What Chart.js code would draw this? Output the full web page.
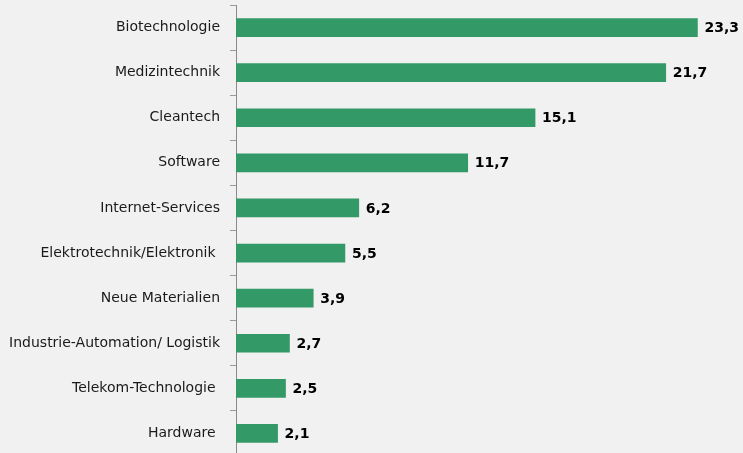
<!DOCTYPE html>
<html>
<head>
<meta charset="utf-8">
<script src="https://cdn.jsdelivr.net/npm/chart.js@4/dist/chart.umd.min.js"></script>
<style>
  html, body { margin: 0; padding: 0; background: #f1f1f1; overflow: hidden; }
  canvas { display: block; }
</style>
</head>
<body>
<canvas id="chart" width="743" height="461"></canvas>
<script>
// Kategorien und Werte (in %)
const categories = [
  'Biotechnologie',
  'Medizintechnik',
  'Cleantech',
  'Software',
  'Internet-Services',
  'Elektrotechnik/Elektronik ',
  'Neue Materialien',
  'Industrie-Automation/ Logistik',
  'Telekom-Technologie ',
  'Hardware '
];
const values = [23.3, 21.7, 15.1, 11.7, 6.2, 5.5, 3.9, 2.7, 2.5, 2.1];

// Werte rechts neben die Balken schreiben
const valueLabels = {
  id: 'valueLabels',
  afterDatasetsDraw(chart) {
    const { ctx } = chart;
    const meta = chart.getDatasetMeta(0);
    ctx.save();
    ctx.font = 'bold 14px "DejaVu Sans"';
    ctx.fillStyle = '#000';
    ctx.textBaseline = 'middle';
    ctx.textAlign = 'left';
    meta.data.forEach((bar, i) => {
      ctx.fillText(values[i].toFixed(1).replace('.', ','), bar.x + 7, bar.y + 1);
    });
    ctx.restore();
  }
};

new Chart(document.getElementById('chart'), {
  type: 'bar',
  data: {
    labels: categories,
    datasets: [{
      data: values,
      backgroundColor: '#339966',
      borderWidth: 0,
      barThickness: 18
    }]
  },
  options: {
    indexAxis: 'y',
    responsive: false,
    animation: false,
    layout: { padding: { top: 5, right: 2, bottom: 5, left: 0 } },
    plugins: {
      legend: { display: false },
      tooltip: { enabled: false }
    },
    scales: {
      x: {
        display: false,
        min: 0,
        max: 25.5
      },
      y: {
        offset: true,
        afterFit(scale) {
          scale.width = 236;
          scale.paddingTop = 0;
          scale.paddingBottom = 0;
        },
        border: { display: true, color: '#8a8a8a', width: 1 },
        grid: {
          offset: true,
          drawOnChartArea: false,
          tickLength: 6,
          color: '#9a9a9a'
        },
        ticks: {
          padding: 10,
          color: '#1a1a1a',
          font: { family: '"DejaVu Sans"', size: 14 }
        }
      }
    }
  },
  plugins: [valueLabels]
});
</script>
</body>
</html>
